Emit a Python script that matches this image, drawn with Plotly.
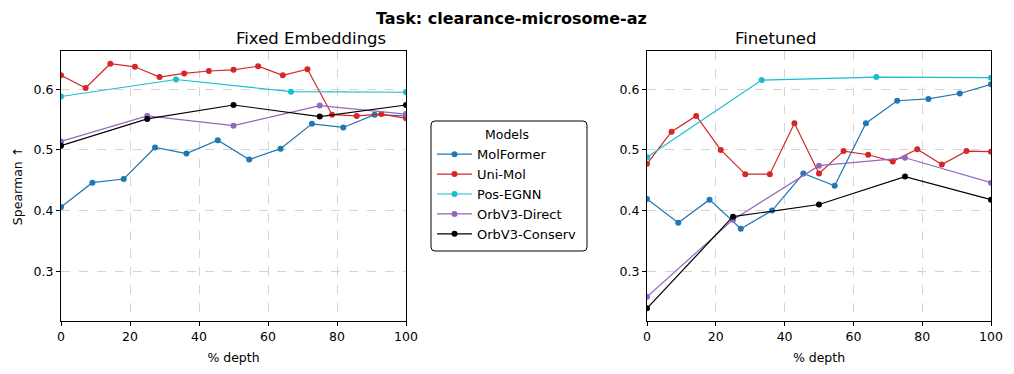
import plotly.graph_objects as go

# --- data ---
MODELS = ["MolFormer", "Uni-Mol", "Pos-EGNN", "OrbV3-Direct", "OrbV3-Conserv"]
COLORS = {
    "MolFormer": "#1f77b4",
    "Uni-Mol": "#d62728",
    "Pos-EGNN": "#17becf",
    "OrbV3-Direct": "#9467bd",
    "OrbV3-Conserv": "#000000",
}

depth_12 = [0, 9.09, 18.18, 27.27, 36.36, 45.45, 54.55, 63.64, 72.73, 81.82, 90.91, 100]
depth_15 = [0, 7.14, 14.29, 21.43, 28.57, 35.71, 42.86, 50, 57.14, 64.29, 71.43, 78.57, 85.71, 92.86, 100]
depth_4 = [0, 33.33, 66.67, 100]
depth_5 = [0, 25, 50, 75, 100]

fixed_molformer = [0.406, 0.446, 0.452, 0.504, 0.494, 0.516, 0.484, 0.502, 0.543, 0.537, 0.558, 0.556]
fixed_unimol = [0.623, 0.602, 0.642, 0.637, 0.620, 0.626, 0.630, 0.632, 0.638, 0.623, 0.633, 0.558, 0.556, 0.559, 0.552]
fixed_posegnn = [0.588, 0.616, 0.596, 0.595]
fixed_orb_direct = [0.514, 0.556, 0.540, 0.573, 0.559]
fixed_orb_conserv = [0.507, 0.551, 0.574, 0.555, 0.574]

ft_molformer = [0.419, 0.380, 0.418, 0.370, 0.400, 0.461, 0.441, 0.544, 0.581, 0.584, 0.593, 0.608]
ft_unimol = [0.477, 0.530, 0.556, 0.500, 0.460, 0.460, 0.544, 0.461, 0.498, 0.492, 0.481, 0.501, 0.476, 0.498, 0.497]
ft_posegnn = [0.488, 0.615, 0.620, 0.619]
ft_orb_direct = [0.258, 0.385, 0.474, 0.487, 0.446]
ft_orb_conserv = [0.239, 0.390, 0.410, 0.456, 0.418]

panels = {
    "x": {
        "MolFormer": (depth_12, fixed_molformer),
        "Uni-Mol": (depth_15, fixed_unimol),
        "Pos-EGNN": (depth_4, fixed_posegnn),
        "OrbV3-Direct": (depth_5, fixed_orb_direct),
        "OrbV3-Conserv": (depth_5, fixed_orb_conserv),
    },
    "x2": {
        "MolFormer": (depth_12, ft_molformer),
        "Uni-Mol": (depth_15, ft_unimol),
        "Pos-EGNN": (depth_4, ft_posegnn),
        "OrbV3-Direct": (depth_5, ft_orb_direct),
        "OrbV3-Conserv": (depth_5, ft_orb_conserv),
    },
}

# page body has an 8px margin, so the figure is drawn 16px smaller and
# reference pixel positions are shifted by OFF
OFF = 8
W, H = 1014 - 2 * OFF, 374 - 2 * OFF
FONT = "DejaVu Sans"
FS = 12.5


def px_x(v):
    return (v - OFF) / W


def px_y(v):
    return (H - (v - OFF)) / H


fig = go.Figure()
for xa, series in panels.items():
    ya = "y" if xa == "x" else "y2"
    for name in MODELS:
        xs, ys = series[name]
        fig.add_trace(go.Scatter(
            x=xs, y=ys, xaxis=xa, yaxis=ya,
            mode="lines+markers", name=name,
            line=dict(color=COLORS[name], width=1.2),
            marker=dict(color=COLORS[name], size=6),
            showlegend=(xa == "x"),
        ))

axis_common = dict(
    showline=True, linecolor="#000000", linewidth=1, mirror=True,
    ticks="outside", ticklen=4, tickcolor="#000000",
    showgrid=True, gridcolor="#d4d4d4", griddash="dash", gridwidth=1,
    zeroline=False, automargin=False,
    tickfont=dict(size=FS, color="black"),
)
xaxis_common = dict(axis_common, range=[0, 100], tickvals=[0, 20, 40, 60, 80, 100],
                    title=dict(text="% depth", font=dict(size=FS), standoff=10))
yaxis_common = dict(axis_common, range=[0.218, 0.663], tickvals=[0.3, 0.4, 0.5, 0.6],
                    tickformat=".1f")

y_dom = [px_y(321), px_y(51)]

# rounded legend frame, like matplotlib's fancybox
lx0, lx1, ly0, ly1 = px_x(431), px_x(587), px_y(251), px_y(121)
rx, ry = 4 / W, 4 / H
legend_box = (
    f"M {lx0 + rx},{ly0} L {lx1 - rx},{ly0} Q {lx1},{ly0} {lx1},{ly0 + ry} "
    f"L {lx1},{ly1 - ry} Q {lx1},{ly1} {lx1 - rx},{ly1} "
    f"L {lx0 + rx},{ly1} Q {lx0},{ly1} {lx0},{ly1 - ry} "
    f"L {lx0},{ly0 + ry} Q {lx0},{ly0} {lx0 + rx},{ly0} Z"
)

fig.update_layout(
    width=W, height=H,
    font=dict(family=FONT, color="black", size=FS),
    plot_bgcolor="white", paper_bgcolor="white",
    margin=dict(l=0, r=0, t=0, b=0),
    xaxis=dict(xaxis_common, domain=[px_x(61), px_x(406)], anchor="y"),
    yaxis=dict(yaxis_common, domain=y_dom, anchor="x",
               title=dict(text="Spearman ↑", font=dict(size=FS), standoff=8)),
    xaxis2=dict(xaxis_common, domain=[px_x(647), px_x(991)], anchor="y2"),
    yaxis2=dict(yaxis_common, domain=y_dom, anchor="x2"),
    legend=dict(
        x=px_x(432), y=px_y(123), xanchor="left", yanchor="top",
        title=dict(text="Models", side="top center", font=dict(size=FS)),
        borderwidth=0, bgcolor="rgba(0,0,0,0)",
        font=dict(size=13), itemwidth=35,
    ),
    shapes=[dict(type="path", xref="paper", yref="paper", path=legend_box,
                 line=dict(color="black", width=1), fillcolor="rgba(0,0,0,0)")],
    annotations=[
        dict(text="<b>Task: clearance-microsome-az</b>", x=px_x(511), y=px_y(18),
             yanchor="middle", xref="paper", yref="paper", showarrow=False, font=dict(size=16)),
        dict(text="Fixed Embeddings", x=px_x((61 + 406) / 2), y=px_y(39),
             yanchor="middle", xref="paper", yref="paper", showarrow=False, font=dict(size=16.5)),
        dict(text="Finetuned", x=px_x((647 + 991) / 2), y=px_y(39),
             yanchor="middle", xref="paper", yref="paper", showarrow=False, font=dict(size=16.5)),
    ],
)

fig.write_html("out.html")
